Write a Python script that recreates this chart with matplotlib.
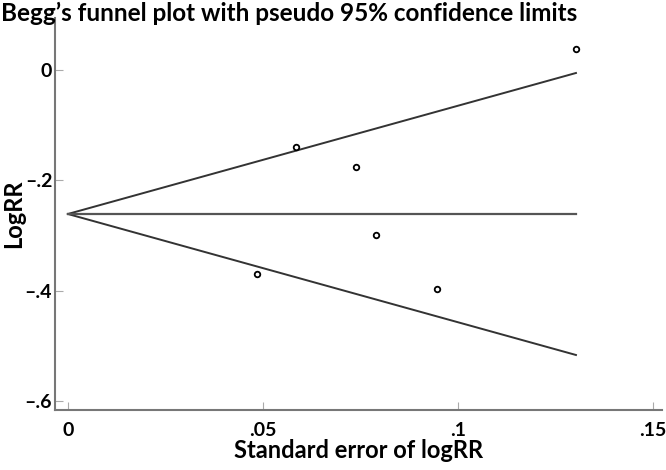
import numpy as np
import matplotlib.pyplot as plt

# study data
se = [0.0484, 0.0586, 0.0740, 0.0791, 0.0946, 0.1303]
log_rr = [-0.369, -0.140, -0.175, -0.299, -0.397, 0.0375]
pooled = -0.261

x_ticks = [0, 0.05, 0.1, 0.15]
x_labels = ['0', '.05', '.1', '.15']
y_ticks = [0, -0.2, -0.4, -0.6]
y_labels = ['0', '\u2013.2', '\u2013.4', '\u2013.6']

plt.rcParams['font.family'] = ['Lato', 'DejaVu Sans']

fig = plt.figure(figsize=(6.66, 4.7), dpi=100)
ax = fig.add_axes([0.0826, 0.1277, 0.911, 0.834])

# pseudo 95% confidence limits
se_max = max(se)
ax.plot([0, se_max], [pooled, pooled + 1.96 * se_max], color='#333333', lw=1.4)
ax.plot([0, se_max], [pooled, pooled - 1.96 * se_max], color='#333333', lw=1.4)
ax.plot([0, se_max], [pooled, pooled], color='#555555', lw=1.6)

ax.scatter(se, log_rr, s=16, facecolors='white', edgecolors='black', linewidths=1.3, zorder=3)

ax.set_xlim(-0.0033, 0.1523)
ax.set_ylim(-0.616, 0.094)
ax.set_xticks(x_ticks)
ax.set_xticklabels(x_labels, fontsize=14, fontweight='bold')
ax.set_yticks(y_ticks)
ax.set_yticklabels(y_labels, fontsize=14, fontweight='bold')
ax.tick_params(axis='x', direction='in', length=6, color='#aaaaaa', pad=9)
ax.tick_params(axis='y', direction='in', length=6, color='#aaaaaa', pad=2)

for side in ['top', 'right']:
    ax.spines[side].set_visible(False)
for side in ['left', 'bottom']:
    ax.spines[side].set_color('#777777')
    ax.spines[side].set_linewidth(1.5)

ax.set_xlabel('Standard error of logRR', fontsize=17, fontweight='bold', labelpad=0)
ax.set_ylabel('LogRR', fontsize=17, fontweight='bold', labelpad=0)
fig.text(0.002, 0.997, 'Begg\u2019s funnel plot with pseudo 95% confidence limits',
         fontsize=17.5, fontweight='bold', ha='left', va='top')

plt.savefig('out.png', dpi=100)
